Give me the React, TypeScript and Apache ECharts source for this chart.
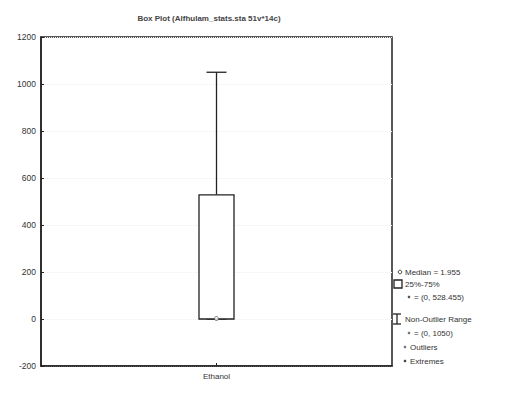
import React, { useEffect, useRef } from "react";
import * as echarts from "echarts";

const categories = ["Ethanol"];
const boxValues = [[0, 0, 1.955, 528.455, 1050]];
const medianValues = [1.955];
const yTicks = { min: -200, max: 1200, interval: 200 };
const titleText = "Box Plot (Alfhulam_stats.sta 51v*14c)";
const legendLines = [
  "Median = 1.955",
  "25%-75%",
  "= (0, 528.455)",
  "Non-Outlier Range",
  "= (0, 1050)",
  "Outliers",
  "Extremes",
];

export default function App() {
  const ref = useRef<HTMLDivElement>(null);
  useEffect(() => {
    document.body.style.margin = "0";
    const chart = echarts.init(ref.current!, null, { renderer: "svg" });
    const font = "Liberation Sans, Arial, sans-serif";
    const txt = (x: number, y: number, t: string) => ({
      type: "text",
      x,
      y,
      style: { text: t, fontSize: 8, fontFamily: font, fill: "#333", textVerticalAlign: "middle" },
    });
    const lineStyle = { stroke: "#222", lineWidth: 1.3, fill: "none" };
    chart.setOption({
      animation: false,
      backgroundColor: "#fff",
      title: {
        text: titleText,
        left: 204,
        textAlign: "center",
        top: 9,
        textStyle: { fontSize: 8, fontFamily: font, fontWeight: "bold", color: "#444" },
      },
      grid: { left: 41, right: 123, top: 37, bottom: 30 },
      xAxis: {
        type: "category",
        data: categories,
        position: "bottom",
        axisLine: { onZero: false, lineStyle: { color: "#222", width: 1.5 } },
        axisTick: { show: true, alignWithLabel: true, inside: true, length: 3, lineStyle: { color: "#222" } },
        axisLabel: { fontSize: 8, fontFamily: font, color: "#333", margin: 6 },
        splitLine: { show: false },
      },
      yAxis: {
        type: "value",
        min: yTicks.min,
        max: yTicks.max,
        interval: yTicks.interval,
        axisLine: { show: true, lineStyle: { color: "#222", width: 1.5 } },
        axisTick: { show: true, inside: true, length: 3, lineStyle: { color: "#222" } },
        axisLabel: { fontSize: 8.5, fontFamily: font, color: "#333", margin: 5, formatter: (v: number) => String(v) },
        splitLine: { show: true, lineStyle: { color: "#eee", type: "dotted" } },
      },
      series: [
        {
          type: "custom",
          data: boxValues.map((b, i) => [i, ...b]),
          encode: { x: 0, y: [1, 2, 3, 4, 5] },
          renderItem: (params: any, api: any) => {
            const i = api.value(0);
            const lo = api.coord([i, api.value(1)]);
            const q1 = api.coord([i, api.value(2)]);
            const q3 = api.coord([i, api.value(4)]);
            const hi = api.coord([i, api.value(5)]);
            const cx = q1[0];
            const bw = 35;
            const cw = 20;
            return {
              type: "group",
              children: [
                { type: "line", shape: { x1: cx, y1: q3[1], x2: cx, y2: hi[1] }, style: lineStyle },
                { type: "line", shape: { x1: cx - cw / 2, y1: hi[1], x2: cx + cw / 2, y2: hi[1] }, style: lineStyle },
                { type: "line", shape: { x1: cx, y1: q1[1], x2: cx, y2: lo[1] }, style: lineStyle },
                { type: "line", shape: { x1: cx - cw / 2, y1: lo[1], x2: cx + cw / 2, y2: lo[1] }, style: lineStyle },
                {
                  type: "rect",
                  shape: { x: cx - bw / 2, y: q3[1], width: bw, height: q1[1] - q3[1] },
                  style: { fill: "#fff", stroke: "#222", lineWidth: 1.3 },
                },
              ],
            };
          },
        },
        {
          type: "scatter",
          data: medianValues.map((v, i) => [i, v]),
          symbol: "circle",
          symbolSize: 4,
          itemStyle: { color: "#fff", borderColor: "#555", borderWidth: 1 },
        },
      ],
      graphic: [
        {
          type: "rect",
          shape: { x: 41, y: 37, width: 351, height: 329 },
          style: { fill: "none", stroke: "#222", lineWidth: 1.5 },
          silent: true,
        },
        { type: "circle", shape: { cx: 400, cy: 272, r: 1.8 }, style: { fill: "#fff", stroke: "#444", lineWidth: 1 } },
        txt(405, 272, legendLines[0]),
        { type: "rect", shape: { x: 394, y: 280, width: 8, height: 8 }, style: { fill: "#fff", stroke: "#222", lineWidth: 1.3 } },
        txt(405, 284, legendLines[1]),
        { type: "circle", shape: { cx: 409, cy: 297, r: 1.3 }, style: { fill: "#555" } },
        txt(414, 297, legendLines[2]),
        { type: "line", shape: { x1: 397, y1: 314, x2: 397, y2: 324 }, style: { stroke: "#222", lineWidth: 1.3 } },
        { type: "line", shape: { x1: 393, y1: 314, x2: 401, y2: 314 }, style: { stroke: "#222", lineWidth: 1.3 } },
        { type: "line", shape: { x1: 393, y1: 324, x2: 401, y2: 324 }, style: { stroke: "#222", lineWidth: 1.3 } },
        txt(405, 319, legendLines[3]),
        { type: "circle", shape: { cx: 409, cy: 333, r: 1.3 }, style: { fill: "#777" } },
        txt(414, 333, legendLines[4]),
        { type: "circle", shape: { cx: 405, cy: 347, r: 1.3 }, style: { fill: "#777" } },
        txt(410, 347, legendLines[5]),
        { type: "circle", shape: { cx: 405, cy: 361, r: 1.3 }, style: { fill: "#444" } },
        txt(410, 361, legendLines[6]),
      ],
    });
    return () => chart.dispose();
  }, []);
  return <div ref={ref} style={{ width: 515, height: 396 }} />;
}
